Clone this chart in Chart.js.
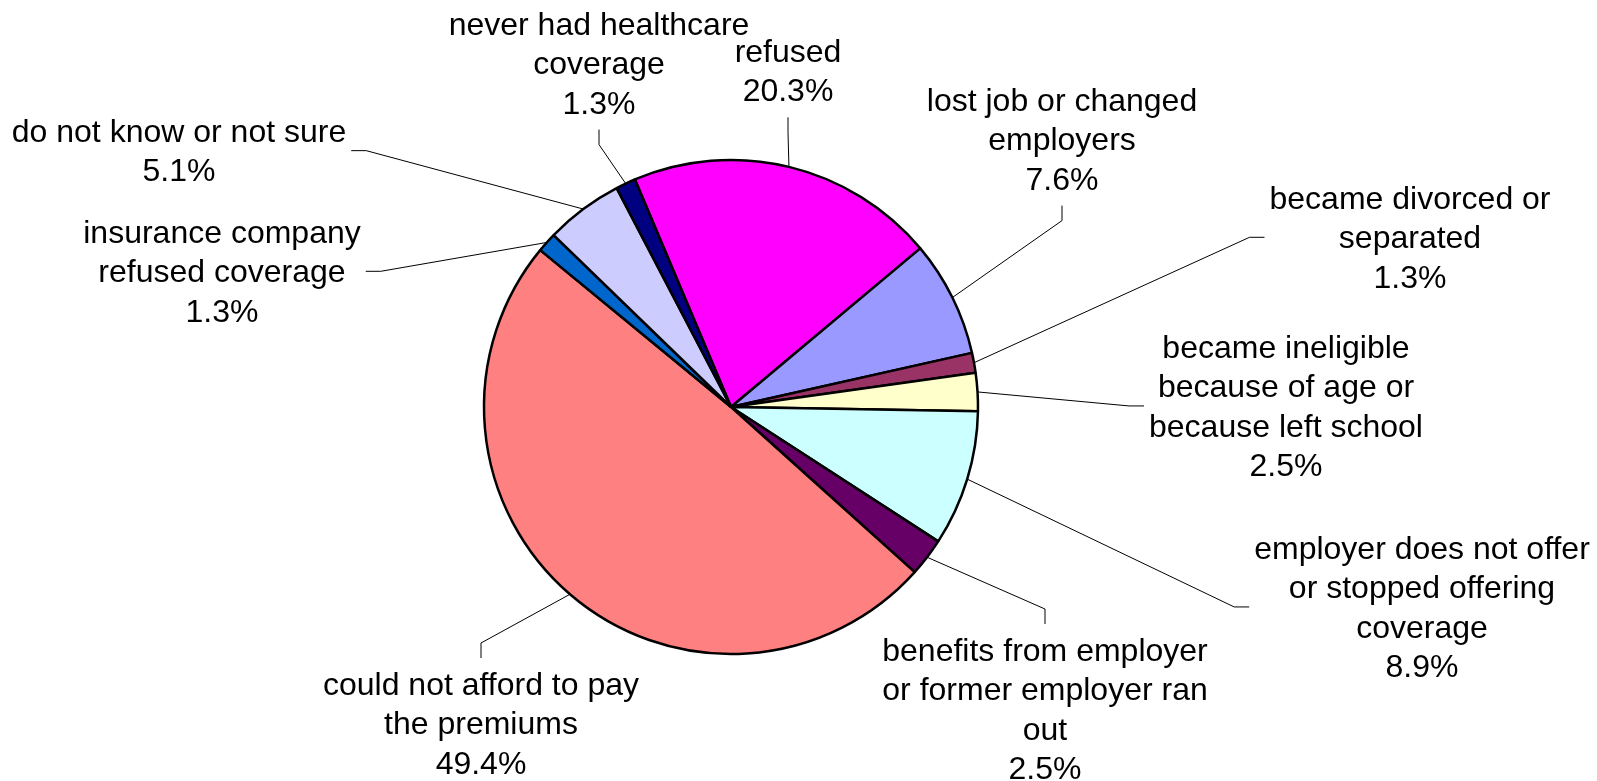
<!DOCTYPE html>
<html>
<head>
<meta charset="utf-8">
<script src="https://cdn.jsdelivr.net/npm/chart.js@4.4.1/dist/chart.umd.min.js"></script>
<style>
  html, body { margin: 0; padding: 0; background: #ffffff; }
  #wrap { width: 1597px; height: 781px; }
  canvas { display: block; }
</style>
</head>
<body>
<div id="wrap"><canvas id="c" width="1597" height="781"></canvas></div>
<script>
// ---- data (clockwise from the "refused" slice) ----
const categories = [
  "refused",
  "lost job or changed employers",
  "became divorced or separated",
  "became ineligible because of age or because left school",
  "employer does not offer or stopped offering coverage",
  "benefits from employer or former employer ran out",
  "could not afford to pay the premiums",
  "insurance company refused coverage",
  "do not know or not sure",
  "never had healthcare coverage"
];
const labelLines = [
  ["refused"],
  ["lost job or changed", "employers"],
  ["became divorced or", "separated"],
  ["became ineligible", "because of age or", "because left school"],
  ["employer does not offer", "or stopped offering", "coverage"],
  ["benefits from employer", "or former employer ran", "out"],
  ["could not afford to pay", "the premiums"],
  ["insurance company", "refused coverage"],
  ["do not know or not sure"],
  ["never had healthcare", "coverage"]
];
const percentValues = [20.3, 7.6, 1.3, 2.5, 8.9, 2.5, 49.4, 1.3, 5.1, 1.3];

// ---- styles / placement (kept apart from data) ----
const sliceColors = [
  "#FF00FF", "#9999FF", "#993366", "#FFFFCC", "#CCFFFF",
  "#660066", "#FF8080", "#0066CC", "#CCCCFF", "#000080"
];
// label anchor relative to pie centre: dx = text centre x, dy = first baseline;
// side = where the leader line meets the label block
const labelPlacement = [
  { dx:   57, dy: -345, side: "bottom" },
  { dx:  331, dy: -296, side: "bottom" },
  { dx:  679, dy: -198, side: "left" },
  { dx:  555, dy:  -49, side: "left" },
  { dx:  691, dy:  152, side: "left" },
  { dx:  314, dy:  254, side: "top" },
  { dx: -250, dy:  288, side: "top" },
  { dx: -509, dy: -164, side: "right" },
  { dx: -552, dy: -265, side: "right" },
  { dx: -132, dy: -372, side: "bottom" }
];
const LINE_HEIGHT = 39.3;
const LABEL_FONT = '32px "Liberation Sans", Arial, sans-serif';

const outsideLabels = {
  id: "outsideLabels",
  afterDatasetsDraw(chart) {
    const ctx = chart.ctx;
    const meta = chart.getDatasetMeta(0);
    ctx.save();
    ctx.font = LABEL_FONT;
    ctx.fillStyle = "#000000";
    ctx.strokeStyle = "#000000";
    ctx.lineWidth = 1;
    ctx.textAlign = "center";
    ctx.textBaseline = "alphabetic";
    meta.data.forEach((arc, i) => {
      const p = arc.getProps(["x", "y", "startAngle", "endAngle", "outerRadius"], true);
      const place = labelPlacement[i];
      const lines = labelLines[i].concat([percentValues[i].toFixed(1) + "%"]);
      const cx = p.x + place.dx;
      const y0 = p.y + place.dy;
      const lastY = y0 + (lines.length - 1) * LINE_HEIGHT;
      let maxW = 0;
      lines.forEach((t, k) => {
        maxW = Math.max(maxW, ctx.measureText(t).width);
        ctx.fillText(t, cx, y0 + k * LINE_HEIGHT);
      });
      const mid = (p.startAngle + p.endAngle) / 2;
      const sx = p.x + Math.cos(mid) * p.outerRadius;
      const sy = p.y + Math.sin(mid) * p.outerRadius;
      const midY = (y0 + lastY) / 2 - 11;
      let ex, ey, bx, by;
      if (place.side === "bottom") {
        ex = cx; ey = lastY + 16; bx = ex; by = ey + 15;
      } else if (place.side === "top") {
        ex = cx; ey = y0 - 37; bx = ex; by = ey - 15;
      } else if (place.side === "left") {
        ex = cx - maxW / 2 - 5; ey = midY; bx = ex - 15; by = ey;
      } else {
        ex = cx + maxW / 2 + 5; ey = midY; bx = ex + 15; by = ey;
      }
      ctx.beginPath();
      ctx.moveTo(sx, sy);
      ctx.lineTo(bx, by);
      ctx.lineTo(ex, ey);
      ctx.stroke();
    });
    ctx.restore();
  }
};

new Chart(document.getElementById("c"), {
  type: "pie",
  data: {
    labels: categories,
    datasets: [{
      data: percentValues,
      backgroundColor: sliceColors,
      borderColor: "#000000",
      borderWidth: 2.5,
      radius: 247
    }]
  },
  options: {
    responsive: false,
    animation: false,
    rotation: -22.9,
    layout: { padding: { left: 0, right: 135, top: 33, bottom: 0 } },
    plugins: {
      legend: { display: false },
      tooltip: { enabled: false },
      title: { display: false }
    },
    events: []
  },
  plugins: [outsideLabels]
});
</script>
</body>
</html>
